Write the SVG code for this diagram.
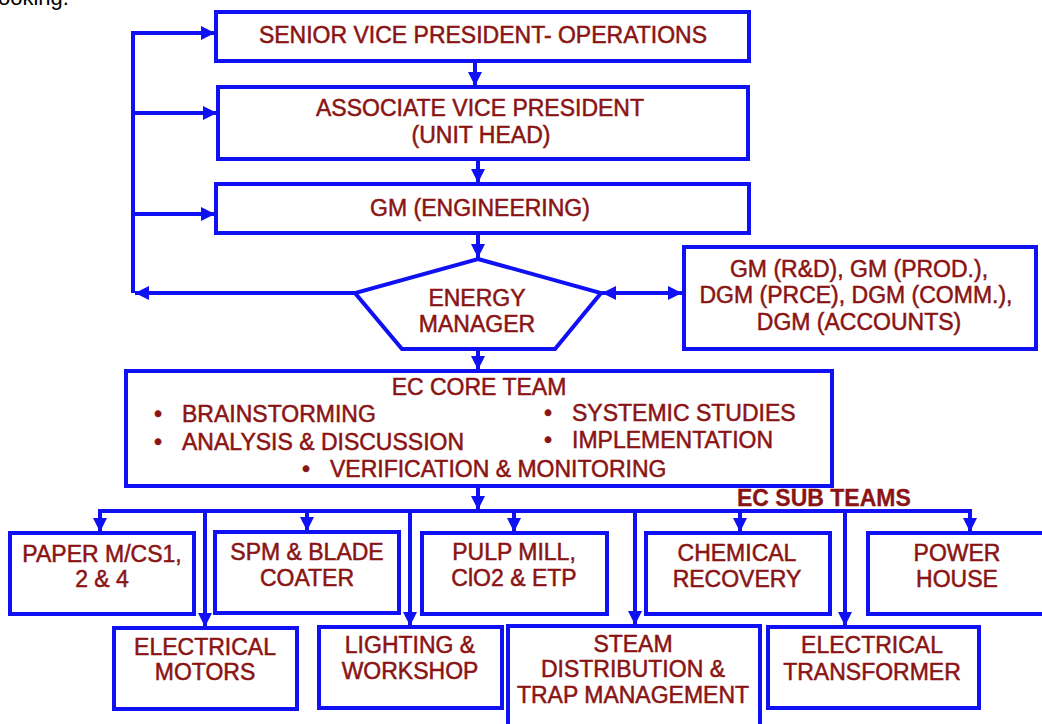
<svg xmlns="http://www.w3.org/2000/svg" width="1042" height="724" viewBox="0 0 1042 724">
<style>
.box{fill:#ffffff;stroke:#1010f5;stroke-width:4}
.ln{fill:none;stroke:#1010f5;stroke-width:4}
.t{font-family:"Liberation Sans",Arial,sans-serif;font-size:23px;fill:#8a1414;stroke:#8a1414;stroke-width:0.5;text-anchor:middle}
.tl{font-family:"Liberation Sans",Arial,sans-serif;font-size:23px;fill:#8a1414;stroke:#8a1414;stroke-width:0.5}
.b{font-weight:bold;font-size:23px;stroke-width:0.3}
</style>
<defs>
<marker id="ah" markerUnits="userSpaceOnUse" markerWidth="14" markerHeight="14" viewBox="0 0 10 10" refX="10" refY="5" orient="auto">
<path d="M0,0 L10,5 L0,10 z" fill="#1010f5"/>
</marker>
<marker id="as" markerUnits="userSpaceOnUse" markerWidth="14" markerHeight="14" viewBox="0 0 10 10" refX="0" refY="5" orient="auto">
<path d="M10,0 L0,5 L10,10 z" fill="#1010f5"/>
</marker>
</defs>
<rect width="1042" height="724" fill="#ffffff"/>
<text x="-2" y="5" style="font-family:'Liberation Sans',Arial,sans-serif;font-size:22px;fill:#000">ooking.</text>

<g id="connectors">
<line class="ln" x1="475" y1="61" x2="475" y2="86" marker-end="url(#ah)"/>
<line class="ln" x1="478" y1="159" x2="478" y2="183" marker-end="url(#ah)"/>
<line class="ln" x1="478" y1="233" x2="478" y2="258" marker-end="url(#ah)"/>
<line class="ln" x1="478" y1="349" x2="478" y2="370" marker-end="url(#ah)"/>
<line class="ln" x1="478" y1="486" x2="478" y2="510" marker-end="url(#ah)"/>
<polyline class="ln" points="133,293 133,33 215,33" marker-end="url(#ah)"/>
<line class="ln" x1="133" y1="113" x2="217" y2="113" marker-end="url(#ah)"/>
<line class="ln" x1="133" y1="214" x2="215" y2="214" marker-end="url(#ah)"/>
<line class="ln" x1="355" y1="293" x2="135" y2="293" marker-end="url(#ah)"/>
<line class="ln" x1="602" y1="293" x2="682" y2="293" marker-start="url(#as)" marker-end="url(#ah)"/>
<line class="ln" x1="98" y1="511" x2="972" y2="511"/>
<line class="ln" x1="100" y1="511" x2="100" y2="532" marker-end="url(#ah)"/>
<line class="ln" x1="307" y1="511" x2="307" y2="531" marker-end="url(#ah)"/>
<line class="ln" x1="514" y1="511" x2="514" y2="532" marker-end="url(#ah)"/>
<line class="ln" x1="740" y1="511" x2="740" y2="532" marker-end="url(#ah)"/>
<line class="ln" x1="970" y1="511" x2="970" y2="532" marker-end="url(#ah)"/>
<line class="ln" x1="205" y1="511" x2="205" y2="627" marker-end="url(#ah)"/>
<line class="ln" x1="410" y1="511" x2="410" y2="626" marker-end="url(#ah)"/>
<line class="ln" x1="635" y1="511" x2="635" y2="625" marker-end="url(#ah)"/>
<line class="ln" x1="845" y1="511" x2="845" y2="626" marker-end="url(#ah)"/>
</g>

<g id="svp">
<rect class="box" x="216" y="12" width="533" height="49"/>
<text class="t" x="483" y="43">SENIOR VICE PRESIDENT- OPERATIONS</text>
</g>
<g id="avp">
<rect class="box" x="218" y="87" width="530" height="72"/>
<text class="t" x="480" y="116">ASSOCIATE VICE PRESIDENT</text>
<text class="t" x="481" y="143">(UNIT HEAD)</text>
</g>
<g id="gm-eng">
<rect class="box" x="216" y="184" width="533" height="49"/>
<text class="t" x="480" y="216">GM (ENGINEERING)</text>
</g>
<g id="energy-manager">
<polygon class="box" points="478,259 601,293 555,349 402,349 355,293"/>
<text class="t" x="477" y="306">ENERGY</text>
<text class="t" x="477" y="332">MANAGER</text>
</g>
<g id="gm-group">
<rect class="box" x="684" y="247" width="352" height="102"/>
<text class="t" x="859" y="277">GM (R&amp;D), GM  (PROD.),</text>
<text class="t" x="856" y="303">DGM (PRCE), DGM (COMM.),</text>
<text class="t" x="859" y="330">DGM (ACCOUNTS)</text>
</g>
<g id="ec-core">
<rect class="box" x="126" y="371" width="706" height="115"/>
<text class="t" x="479" y="395">EC CORE TEAM</text>
<text class="tl" x="154" y="422">•</text>
<text class="tl" x="182" y="422">BRAINSTORMING</text>
<text class="tl" x="154" y="450">•</text>
<text class="tl" x="182" y="450">ANALYSIS &amp; DISCUSSION</text>
<text class="tl" x="544" y="421">•</text>
<text class="tl" x="572" y="421">SYSTEMIC STUDIES</text>
<text class="tl" x="544" y="448">•</text>
<text class="tl" x="572" y="448">IMPLEMENTATION</text>
<text class="tl" x="302" y="477">•</text>
<text class="tl" x="330" y="477">VERIFICATION &amp; MONITORING</text>
</g>
<g id="ec-sub-label">
<text class="tl b" x="737" y="506">EC SUB TEAMS</text>
</g>
<g id="paper">
<rect class="box" x="10" y="533" width="184" height="81"/>
<text class="t" x="102" y="562">PAPER M/CS1,</text>
<text class="t" x="102" y="587">2 &amp; 4</text>
</g>
<g id="spm">
<rect class="box" x="215" y="532" width="184" height="81"/>
<text class="t" x="307" y="560">SPM &amp; BLADE</text>
<text class="t" x="307" y="586">COATER</text>
</g>
<g id="pulp">
<rect class="box" x="422" y="533" width="185" height="81"/>
<text class="t" x="514" y="560">PULP MILL,</text>
<text class="t" x="514" y="586">ClO2 &amp; ETP</text>
</g>
<g id="chemical">
<rect class="box" x="646" y="533" width="184" height="81"/>
<text class="t" x="737" y="561">CHEMICAL</text>
<text class="t" x="737" y="587">RECOVERY</text>
</g>
<g id="power">
<rect class="box" x="868" y="533" width="190" height="81"/>
<text class="t" x="957" y="561">POWER</text>
<text class="t" x="957" y="587">HOUSE</text>
</g>
<g id="motors">
<rect class="box" x="114" y="628" width="183" height="81"/>
<text class="t" x="205" y="655">ELECTRICAL</text>
<text class="t" x="205" y="680">MOTORS</text>
</g>
<g id="lighting">
<rect class="box" x="319" y="627" width="183" height="81"/>
<text class="t" x="410" y="653">LIGHTING &amp;</text>
<text class="t" x="410" y="679">WORKSHOP</text>
</g>
<g id="steam">
<rect class="box" x="508" y="626" width="252" height="110"/>
<text class="t" x="633" y="652">STEAM</text>
<text class="t" x="633" y="677">DISTRIBUTION &amp;</text>
<text class="t" x="633" y="703">TRAP MANAGEMENT</text>
</g>
<g id="transformer">
<rect class="box" x="768" y="627" width="211" height="81"/>
<text class="t" x="872" y="653">ELECTRICAL</text>
<text class="t" x="872" y="680">TRANSFORMER</text>
</g>
</svg>
